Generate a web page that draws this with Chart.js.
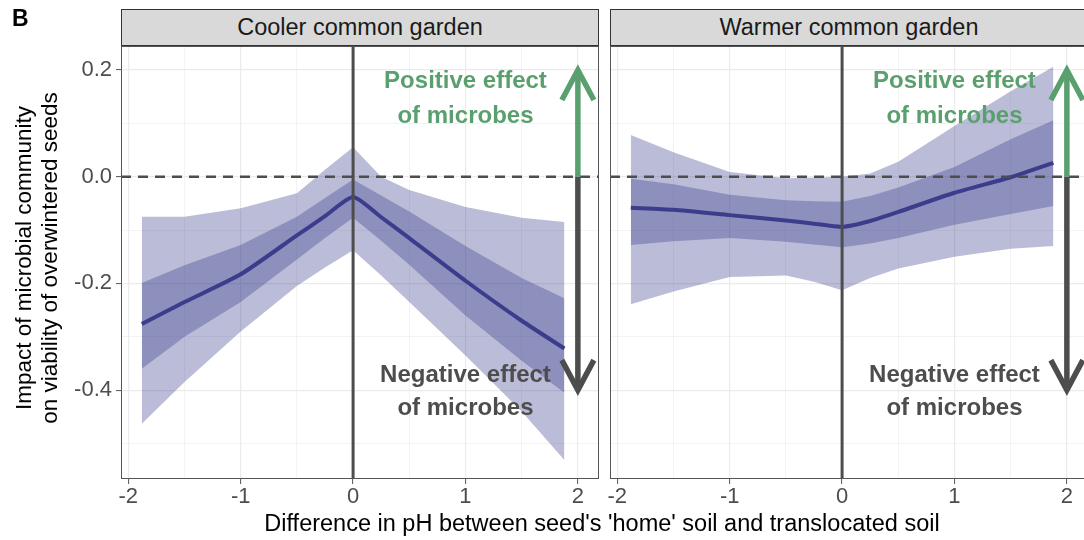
<!DOCTYPE html>
<html>
<head>
<meta charset="utf-8">
<script src="https://cdn.jsdelivr.net/npm/chart.js@4.4.0/dist/chart.umd.min.js"></script>
<style>
  body { margin: 0; width: 1084px; height: 540px; overflow: hidden; background: #fff; position: relative;
         font-family: "Liberation Sans", Arial, sans-serif; }
  canvas { position: absolute; top: 0; }
  #cooler { left: 0; }
  #warmer { left: 605px; }
  .strip { position: absolute; top: 9px; height: 37px; box-sizing: border-box; border: 1px solid #333;
           background: #d9d9d9; color: #1a1a1a; font-size: 23.5px; line-height: 35px; text-align: center; }
  #strip1 { left: 121px; width: 478px; }
  #strip2 { left: 610px; width: 478px; }
  #tag { position: absolute; left: 12px; top: 7px; font-weight: bold; font-size: 23px; line-height: 23px; }
  #ytitle { position: absolute; left: -163px; top: 232px; width: 400px; height: 52px; font-size: 22.5px;
            line-height: 26px; text-align: center; transform: rotate(-90deg); color: #000; }
  #xtitle { position: absolute; left: 202px; top: 510px; width: 800px; font-size: 23.5px; line-height: 26px;
            text-align: center; color: #000; }
</style>
</head>
<body>
<canvas id="cooler" width="605" height="540"></canvas>
<canvas id="warmer" width="490" height="540"></canvas>
<div class="strip" id="strip1">Cooler common garden</div>
<div class="strip" id="strip2">Warmer common garden</div>
<div id="tag">B</div>
<div id="ytitle">Impact of microbial community<br>on viability of overwintered seeds</div>
<div id="xtitle">Difference in pH between seed's 'home' soil and translocated soil</div>
<script>
// pH difference at which the fitted curves were read
const phDiff = [-1.88, -1.5, -1, -0.5, -0.25, 0, 0.25, 0.5, 1, 1.5, 1.88];

// Cooler common garden: fitted effect and two credible bands
const coolerMean    = [-0.276, -0.235, -0.183, -0.110, -0.074, -0.038, -0.076, -0.115, -0.195, -0.270, -0.322];
const coolerOuterHi = [-0.075, -0.075, -0.059, -0.031,  0.013,  0.055,  0.000, -0.025, -0.057, -0.077, -0.085];
const coolerOuterLo = [-0.463, -0.385, -0.290, -0.205, -0.170, -0.138, -0.185, -0.235, -0.335, -0.440, -0.531];
const coolerInnerHi = [-0.199, -0.166, -0.128, -0.075, -0.040, -0.005, -0.035, -0.065, -0.130, -0.190, -0.228];
const coolerInnerLo = [-0.360, -0.300, -0.235, -0.155, -0.115, -0.077, -0.120, -0.165, -0.260, -0.345, -0.405];

// Warmer common garden
const warmerMean    = [-0.058, -0.062, -0.072, -0.082, -0.088, -0.094, -0.083, -0.066, -0.030, -0.001,  0.026];
const warmerOuterHi = [ 0.078,  0.046,  0.009, -0.003, -0.002,  0.000,  0.006,  0.028,  0.095,  0.160,  0.206];
const warmerOuterLo = [-0.239, -0.215, -0.188, -0.185, -0.197, -0.213, -0.190, -0.172, -0.150, -0.135, -0.130];
const warmerInnerHi = [-0.004, -0.014, -0.034, -0.044, -0.046, -0.047, -0.036, -0.020,  0.018,  0.070,  0.106];
const warmerInnerLo = [-0.128, -0.121, -0.115, -0.122, -0.127, -0.132, -0.125, -0.115, -0.090, -0.070, -0.055];

// axis ticks
const xTicks = [-2, -1.5, -1, -0.5, 0, 0.5, 1, 1.5, 2];
const yTicks = [-0.5, -0.4, -0.3, -0.2, -0.1, 0, 0.1, 0.2];

// annotation text
const posLabel = ['Positive effect', 'of microbes'];
const negLabel = ['Negative effect', 'of microbes'];

const FONT = '"Liberation Sans", Arial, sans-serif';
const BAND = 'rgba(49,52,134,0.33)';
const GREEN = '#5a9f6e';
const DARK = '#4d4d4d';

const isMajorX = v => Math.abs(v - Math.round(v)) < 1e-6;
const isMajorY = v => Math.abs(v * 5 - Math.round(v * 5)) < 1e-6;

function pts(arr) {
  return phDiff.map((x, i) => ({ x: x, y: arr[i] }));
}

function drawArrow(ctx, px, fromY, toY, color) {
  const dir = toY > fromY ? 1 : -1;
  ctx.strokeStyle = color;
  ctx.lineWidth = 5.5;
  ctx.lineCap = 'butt';
  ctx.lineJoin = 'miter';
  ctx.beginPath();
  ctx.moveTo(px, fromY);
  ctx.lineTo(px, toY);
  ctx.stroke();
  ctx.beginPath();
  ctx.moveTo(px - 16, toY - dir * 30);
  ctx.lineTo(px, toY);
  ctx.lineTo(px + 16, toY - dir * 30);
  ctx.stroke();
}

const panelDecor = {
  id: 'panelDecor',
  afterDatasetsDraw(chart) {
    const { ctx, chartArea: a, scales: { x, y } } = chart;
    ctx.save();
    ctx.beginPath();
    ctx.rect(a.left, a.top, a.right - a.left, a.bottom - a.top);
    ctx.clip();

    const x0 = x.getPixelForValue(0);
    const y0 = y.getPixelForValue(0);
    ctx.strokeStyle = DARK;
    ctx.lineWidth = 3;
    ctx.beginPath();
    ctx.moveTo(x0, a.top);
    ctx.lineTo(x0, a.bottom);
    ctx.stroke();

    ctx.setLineDash([10, 7]);
    ctx.lineWidth = 2.5;
    ctx.beginPath();
    ctx.moveTo(a.left, y0);
    ctx.lineTo(a.right, y0);
    ctx.stroke();
    ctx.setLineDash([]);

    const ax = x.getPixelForValue(2);
    drawArrow(ctx, ax, y0, y.getPixelForValue(0.2), GREEN);
    drawArrow(ctx, ax, y0, y.getPixelForValue(-0.4), DARK);

    ctx.font = 'bold 24px ' + FONT;
    ctx.textAlign = 'center';
    ctx.textBaseline = 'alphabetic';
    const tx = x.getPixelForValue(1);
    ctx.fillStyle = GREEN;
    ctx.fillText(posLabel[0], tx, y.getPixelForValue(0.166));
    ctx.fillText(posLabel[1], tx, y.getPixelForValue(0.101));
    ctx.fillStyle = DARK;
    ctx.fillText(negLabel[0], tx, y.getPixelForValue(-0.384));
    ctx.fillText(negLabel[1], tx, y.getPixelForValue(-0.447));
    ctx.restore();

    // panel border
    ctx.save();
    ctx.strokeStyle = '#555';
    ctx.lineWidth = 1;
    ctx.strokeRect(a.left + 0.5, a.top + 0.5, a.right - a.left - 1, a.bottom - a.top - 1);
    ctx.restore();
  }
};

function makePanel(id, mean, outerHi, outerLo, innerHi, innerLo, showY, padLeft, padRight) {
  const lineBase = { pointRadius: 0, borderColor: 'transparent', backgroundColor: BAND, tension: 0 };
  return new Chart(document.getElementById(id), {
    type: 'line',
    data: {
      datasets: [
        { data: pts(mean), pointRadius: 0, borderColor: '#3c3c8c', borderWidth: 4, fill: false, tension: 0.2 },
        Object.assign({ data: pts(innerHi), fill: '+1' }, lineBase),
        Object.assign({ data: pts(innerLo), fill: false }, lineBase),
        Object.assign({ data: pts(outerHi), fill: '+1' }, lineBase),
        Object.assign({ data: pts(outerLo), fill: false }, lineBase)
      ]
    },
    options: {
      responsive: false,
      animation: false,
      events: [],
      layout: { padding: { left: padLeft, right: padRight, top: 46, bottom: 0 } },
      plugins: { legend: { display: false }, tooltip: { enabled: false } },
      scales: {
        x: {
          type: 'linear',
          min: -2.065, max: 2.188,
          afterBuildTicks: s => { s.ticks = xTicks.map(v => ({ value: v })); },
          afterFit: s => { s.height = 61; },
          border: { display: false },
          grid: {
            color: '#ebebeb',
            lineWidth: c => isMajorX(c.tick.value) ? 1.2 : 0.6,
            tickColor: c => isMajorX(c.tick.value) ? '#555' : 'rgba(0,0,0,0)',
            tickWidth: 1,
            tickLength: 5
          },
          ticks: {
            autoSkip: false, maxRotation: 0, padding: 0, color: DARK,
            font: { family: FONT, size: 22 },
            callback: v => isMajorX(v) ? String(Math.round(v)) : ''
          }
        },
        y: {
          type: 'linear',
          min: -0.5666, max: 0.245,
          afterBuildTicks: s => { s.ticks = yTicks.map(v => ({ value: v })); },
          afterFit: s => { s.width = showY ? 121 : 0; },
          border: { display: false },
          grid: {
            color: '#ebebeb',
            lineWidth: c => isMajorY(c.tick.value) ? 1.2 : 0.6,
            tickColor: c => isMajorY(c.tick.value) ? '#555' : 'rgba(0,0,0,0)',
            tickWidth: 1,
            tickLength: 5,
            drawTicks: showY
          },
          ticks: {
            display: showY, autoSkip: false, padding: 4, color: DARK,
            font: { family: FONT, size: 22 },
            callback: v => isMajorY(v) ? v.toFixed(1) : ''
          }
        }
      }
    },
    plugins: [panelDecor]
  });
}

makePanel('cooler', coolerMean, coolerOuterHi, coolerOuterLo, coolerInnerHi, coolerInnerLo, true, 0, 6);
makePanel('warmer', warmerMean, warmerOuterHi, warmerOuterLo, warmerInnerHi, warmerInnerLo, false, 5, 7);
</script>
</body>
</html>
